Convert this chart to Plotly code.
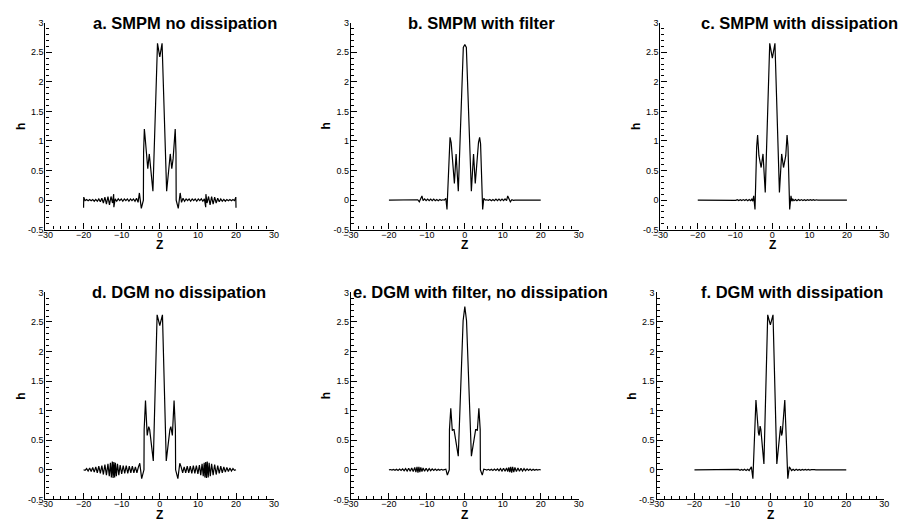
import plotly.graph_objects as go

# ---------------- data ----------------
titles = ["a. SMPM no dissipation", "b. SMPM with filter", "c. SMPM with dissipation",
          "d. DGM no dissipation", "e. DGM with filter, no dissipation", "f. DGM with dissipation"]

x_ticks = [-30, -20, -10, 0, 10, 20, 30]
y_ticks = [-0.5, 0, 0.5, 1, 1.5, 2, 2.5, 3]
y_tick_labels = ["-0.5", "0", "0.5", "1", "1.5", "2", "2.5", "3"]

z_a = [-20.0, -19.95, -19.6, -19.2, -18.8, -18.4, -18.0, -17.6, -17.2, -16.8,
       -16.4, -16.0, -15.6, -15.2, -14.8, -14.4, -14.0, -13.6, -13.2, -12.8,
       -12.4, -12.1, -12.05, -11.7, -11.3, -10.9, -10.5, -10.1, -9.7, -9.3,
       -8.9, -8.5, -8.1, -7.7, -7.3, -6.9, -6.5, -6.1, -5.7, -5.35,
       -4.85, -4.3, -4.25, -4.05, -3.9, -3.5, -3.15, -2.75, -1.8, -0.6,
       0.0,
       0.6, 1.8, 2.75, 3.15, 3.5, 3.9, 4.05, 4.25, 4.3, 4.85,
       5.35, 5.7, 6.1, 6.5, 6.9, 7.3, 7.7, 8.1, 8.5, 8.9,
       9.3, 9.7, 10.1, 10.5, 10.9, 11.3, 11.7, 12.05, 12.1, 12.4,
       12.8, 13.2, 13.6, 14.0, 14.4, 14.8, 15.2, 15.6, 16.0, 16.4,
       16.8, 17.2, 17.6, 18.0, 18.4, 18.8, 19.2, 19.6, 19.95, 20.0]
h_a = [-0.13, 0.05, -0.01, 0.01, -0.01, 0.01, -0.01, 0.01, -0.02, 0.01,
       -0.02, 0.02, -0.03, 0.03, -0.05, 0.05, -0.07, 0.06, -0.08, 0.06,
       -0.05, 0.1, -0.12, 0.02, -0.02, 0.02, -0.01, 0.02, -0.02, 0.02,
       -0.01, 0.02, -0.02, 0.02, -0.01, 0.02, -0.02, 0.03, -0.04, 0.12,
       -0.14, 0.0, 0.8, 1.2, 1.1, 0.7, 0.53, 0.78, 0.15, 2.65,
       2.42,
       2.65, 0.15, 0.78, 0.53, 0.7, 1.1, 1.2, 0.8, 0.0, -0.14,
       0.12, -0.04, 0.03, -0.02, 0.02, -0.01, 0.02, -0.02, 0.02, -0.01,
       0.02, -0.02, 0.02, -0.01, 0.02, -0.02, 0.02, -0.12, 0.1, -0.05,
       0.06, -0.08, 0.06, -0.07, 0.05, -0.05, 0.03, -0.03, 0.02, -0.02,
       0.01, -0.02, 0.01, -0.01, 0.01, -0.01, 0.01, -0.01, 0.05, -0.13]

z_b = [-20.0, -13.2, -12.8, -12.4, -12.0, -11.6, -11.3, -11.0, -10.6, -10.2,
       -9.8, -9.4, -9.0, -8.6, -8.2, -7.8, -7.4, -7.0, -6.6, -6.2,
       -5.8, -5.4, -5.0, -4.7, -4.15, -3.9, -3.6, -2.75, -2.3, -1.72,
       -0.4, 0.0,
       0.4, 1.72, 2.3, 2.75, 3.6, 3.9, 4.15, 4.7, 5.0, 5.4,
       5.8, 6.2, 6.6, 7.0, 7.4, 7.8, 8.2, 8.6, 9.0, 9.4,
       9.8, 10.2, 10.6, 11.0, 11.3, 11.6, 12.0, 12.4, 12.8, 13.2,
       20.0]
h_b = [0.0, 0.0, -0.005, 0.005, -0.03, 0.02, 0.07, -0.01, 0.02, -0.01,
       0.015, -0.01, 0.015, -0.01, 0.015, -0.01, 0.01, -0.01, 0.01, -0.005,
       0.005, 0.0, 0.03, -0.16, 0.95, 1.06, 0.97, 0.28, 0.78, 0.15,
       2.58, 2.63,
       2.58, 0.15, 0.78, 0.28, 0.97, 1.06, 0.95, -0.16, 0.03, 0.0,
       0.005, -0.005, 0.01, -0.01, 0.01, -0.01, 0.015, -0.01, 0.015, -0.01,
       0.015, -0.01, 0.02, -0.01, 0.07, 0.02, -0.03, 0.005, -0.005, 0.0,
       0.0]

z_c = [-20.0, -12.2, -11.8, -11.4, -11.0, -10.6, -10.2, -9.8, -9.4, -9.0,
       -8.6, -8.2, -7.8, -7.4, -7.0, -6.6, -6.2, -5.8, -5.5, -5.25,
       -5.0, -4.65, -4.2, -3.95, -3.6, -3.0, -2.5, -1.9, -0.7, 0.0,
       0.7, 1.9, 2.5, 3.0, 3.6, 3.95, 4.2, 4.65, 5.0, 5.25,
       5.5, 5.8, 6.2, 6.6, 7.0, 7.4, 7.8, 8.2, 8.6, 9.0,
       9.4, 9.8, 10.2, 10.6, 11.0, 11.4, 11.8, 12.2, 20.0]
h_c = [0.0, 0.0, 0.005, -0.005, 0.006, -0.006, 0.006, -0.006, 0.007, -0.007,
       0.007, -0.007, 0.008, -0.008, 0.008, -0.01, 0.01, -0.01, 0.015, -0.02,
       0.07, -0.16, 0.9, 1.1, 0.75, 0.55, 0.78, 0.13, 2.65, 2.4,
       2.65, 0.13, 0.78, 0.55, 0.75, 1.1, 0.9, -0.16, 0.07, -0.02,
       0.015, -0.01, 0.01, -0.01, 0.008, -0.008, 0.008, -0.007, 0.007, -0.007,
       0.007, -0.006, 0.006, -0.006, 0.006, -0.005, 0.005, 0.0, 0.0]

z_d = [-20.0, -19.6, -19.2, -18.8, -18.4, -18.0, -17.6, -17.2, -16.8, -16.4,
       -16.0, -15.6, -15.2, -14.8, -14.4, -14.0, -13.6, -13.25, -12.95, -12.7,
       -12.45, -12.25, -12.05, -11.85, -11.65, -11.4, -11.1, -10.75, -10.4, -10.0,
       -9.6, -9.2, -8.8, -8.4, -8.0, -7.6, -7.2, -6.8, -6.4, -6.0,
       -5.6, -5.25, -4.75, -4.15, -4.1, -3.75, -3.3, -2.9, -2.65, -1.7,
       -0.7, 0.0,
       0.7, 1.7, 2.65, 2.9, 3.3, 3.75, 4.1, 4.15, 4.75, 5.25,
       5.6, 6.0, 6.4, 6.8, 7.2, 7.6, 8.0, 8.4, 8.8, 9.2,
       9.6, 10.0, 10.4, 10.75, 11.1, 11.4, 11.65, 11.85, 12.05, 12.25,
       12.45, 12.7, 12.95, 13.25, 13.6, 14.0, 14.4, 14.8, 15.2, 15.6,
       16.0, 16.4, 16.8, 17.2, 17.6, 18.0, 18.4, 18.8, 19.2, 19.6,
       20.0]
h_d = [0.0, -0.01, 0.02, -0.02, 0.03, -0.03, 0.04, -0.04, 0.05, -0.05,
       0.06, -0.06, 0.07, -0.08, 0.09, -0.09, 0.1, -0.11, 0.12, -0.13,
       0.14, -0.14, 0.13, -0.13, 0.12, -0.11, 0.1, -0.09, 0.08, -0.07,
       0.07, -0.06, 0.07, -0.06, 0.06, -0.05, 0.06, -0.05, 0.05, -0.05,
       0.05, 0.11, -0.15, 0.0, 0.68, 1.17, 0.58, 0.73, 0.68, 0.15,
       2.62, 2.44,
       2.62, 0.15, 0.68, 0.73, 0.58, 1.17, 0.68, 0.0, -0.15, 0.11,
       0.05, -0.05, 0.05, -0.05, 0.06, -0.05, 0.06, -0.06, 0.07, -0.06,
       0.07, -0.07, 0.08, -0.09, 0.1, -0.11, 0.12, -0.13, 0.13, -0.14,
       0.14, -0.13, 0.12, -0.11, 0.1, -0.09, 0.09, -0.08, 0.07, -0.06,
       0.06, -0.05, 0.05, -0.04, 0.04, -0.03, 0.03, -0.02, 0.02, -0.01,
       0.0]

z_e = [-20.0, -19.6, -19.2, -18.8, -18.4, -18.0, -17.6, -17.2, -16.8, -16.4,
       -16.0, -15.6, -15.2, -14.8, -14.4, -14.0, -13.6, -13.2, -12.9, -12.6,
       -12.35, -12.1, -11.85, -11.6, -11.3, -11.0, -10.6, -10.2, -9.8, -9.4,
       -9.0, -8.6, -8.2, -7.8, -7.4, -7.0, -6.6, -6.2, -5.8, -5.4,
       -5.0, -4.6, -4.1, -4.05, -3.7, -3.3, -3.1, -2.85, -1.73, -0.45,
       0.0,
       0.45, 1.73, 2.85, 3.1, 3.3, 3.7, 4.05, 4.1, 4.6, 5.0,
       5.4, 5.8, 6.2, 6.6, 7.0, 7.4, 7.8, 8.2, 8.6, 9.0,
       9.4, 9.8, 10.2, 10.6, 11.0, 11.3, 11.6, 11.85, 12.1, 12.35,
       12.6, 12.9, 13.2, 13.6, 14.0, 14.4, 14.8, 15.2, 15.6, 16.0,
       16.4, 16.8, 17.2, 17.6, 18.0, 18.4, 18.8, 19.2, 19.6, 20.0]
h_e = [0.0, 0.005, -0.005, 0.007, -0.007, 0.01, -0.01, 0.012, -0.012, 0.015,
       -0.015, 0.02, -0.02, 0.025, -0.025, 0.03, -0.03, 0.04, -0.04, 0.05,
       -0.05, 0.05, -0.04, 0.04, -0.03, 0.03, -0.025, 0.025, -0.02, 0.02,
       -0.015, 0.015, -0.012, 0.012, -0.01, 0.01, -0.008, 0.008, -0.005, 0.005,
       0.01, -0.09, 0.0, 0.68, 1.04, 0.66, 0.68, 0.68, 0.23, 2.52,
       2.76,
       2.52, 0.23, 0.68, 0.68, 0.66, 1.04, 0.68, 0.0, -0.09, 0.01,
       0.005, -0.005, 0.008, -0.008, 0.01, -0.01, 0.012, -0.012, 0.015, -0.015,
       0.02, -0.02, 0.025, -0.025, 0.03, -0.03, 0.04, -0.04, 0.05, -0.05,
       0.05, -0.04, 0.04, -0.03, 0.03, -0.025, 0.025, -0.02, 0.02, -0.015,
       0.015, -0.012, 0.012, -0.01, 0.01, -0.007, 0.007, -0.005, 0.005, 0.0]

z_f = [-20.0, -12.0, -11.6, -11.2, -10.8, -10.4, -10.0, -9.6, -9.2, -8.8,
       -8.4, -8.0, -7.6, -7.2, -6.8, -6.4, -6.0, -5.6, -5.3, -5.0,
       -4.6, -3.8, -3.15, -2.95, -2.7, -2.5, -1.7, -0.7, 0.0,
       0.7, 1.7, 2.5, 2.7, 2.95, 3.15, 3.8, 4.6, 5.0, 5.3,
       5.6, 6.0, 6.4, 6.8, 7.2, 7.6, 8.0, 8.4, 8.8, 9.2,
       9.6, 10.0, 10.4, 10.8, 11.2, 11.6, 12.0, 20.0]
h_f = [0.0, 0.0, 0.003, -0.003, 0.004, -0.004, 0.005, -0.005, 0.005, -0.006,
       0.006, -0.007, 0.007, -0.008, 0.008, -0.01, 0.01, -0.012, 0.015, 0.05,
       -0.15, 1.18, 0.63, 0.58, 0.74, 0.68, 0.1, 2.62, 2.45,
       2.62, 0.1, 0.68, 0.74, 0.58, 0.63, 1.18, -0.15, 0.05, 0.015,
       -0.012, 0.01, -0.01, 0.008, -0.008, 0.007, -0.007, 0.006, -0.006, 0.005,
       -0.005, 0.005, -0.004, 0.004, -0.003, 0.003, 0.0, 0.0]

series = [(z_a, h_a), (z_b, h_b), (z_c, h_c), (z_d, h_d), (z_e, h_e), (z_f, h_f)]

# ---------------- layout (pixel geometry) ----------------
W, H = 903, 523
px_x = [(38, 270), (348, 579), (662, 889), (38, 270), (348, 579), (658, 889)]
px_y = [(18, 229), (18, 229), (18, 229), (293, 504), (293, 504), (293, 504)]
title_pos = [(180, 18), (480, 18), (803, 18), (173, 293), (479, 293), (795, 293)]

FONT = "Liberation Sans, Arial, sans-serif"

fig = go.Figure()
annotations = []
layout = dict(width=W, height=H, margin=dict(l=0, r=0, t=0, b=0),
              paper_bgcolor="white", plot_bgcolor="white", showlegend=False,
              font=dict(family=FONT, color="black"))

for i, ((z, h), (x0, x1), (y0, y1)) in enumerate(zip(series, px_x, px_y)):
    n = "" if i == 0 else str(i + 1)
    fig.add_trace(go.Scatter(x=z, y=h, mode="lines",
                             line=dict(color="black", width=1.2),
                             xaxis="x" + n, yaxis="y" + n, hoverinfo="skip"))
    common = dict(showline=True, linecolor="black", linewidth=1.3, mirror=False,
                  showgrid=False, zeroline=False, ticks="inside", ticklen=6,
                  tickwidth=1, tickcolor="black",
                  tickfont=dict(family=FONT, size=9, color="black"))
    layout["xaxis" + n] = dict(common, domain=[x0 / W, x1 / W], range=[-30, 30],
                               anchor="y" + n, tickvals=x_ticks, ticklabelstandoff=-4,
                               minor=dict(dtick=2, ticks="inside", ticklen=3,
                                          tickcolor="black", tickwidth=1))
    layout["yaxis" + n] = dict(common, domain=[1 - y1 / H, 1 - y0 / H], range=[-0.5, 3],
                               anchor="x" + n, tickvals=y_ticks, ticktext=y_tick_labels,
                               ticklabelstandoff=-1,
                               minor=dict(dtick=0.1, ticks="inside", ticklen=3,
                                          tickcolor="black", tickwidth=1))
    tx, ty = title_pos[i]
    annotations.append(dict(text="<b>" + titles[i] + "</b>", xref="paper", yref="paper",
                            x=tx / W, y=1 - ty / H, xanchor="center", yanchor="middle",
                            showarrow=False, font=dict(family=FONT, size=16.5, color="black")))
    annotations.append(dict(text="<b>Z</b>", xref="paper", yref="paper",
                            x=(x0 + x1) / 2 / W, y=1 - (y1 + 16) / H,
                            xanchor="center", yanchor="middle", showarrow=False,
                            font=dict(family=FONT, size=12, color="black")))
    annotations.append(dict(text="<b>h</b>", xref="paper", yref="paper",
                            x=(x0 - 25) / W, y=1 - (y0 + y1) / 2 / H, textangle=-90,
                            xanchor="center", yanchor="middle", showarrow=False,
                            font=dict(family=FONT, size=12, color="black")))

layout["annotations"] = annotations
fig.update_layout(**layout)
fig.write_html("out.html", config={"displayModeBar": False},
               post_script="document.body.style.margin='0';document.body.style.overflow='hidden';")
